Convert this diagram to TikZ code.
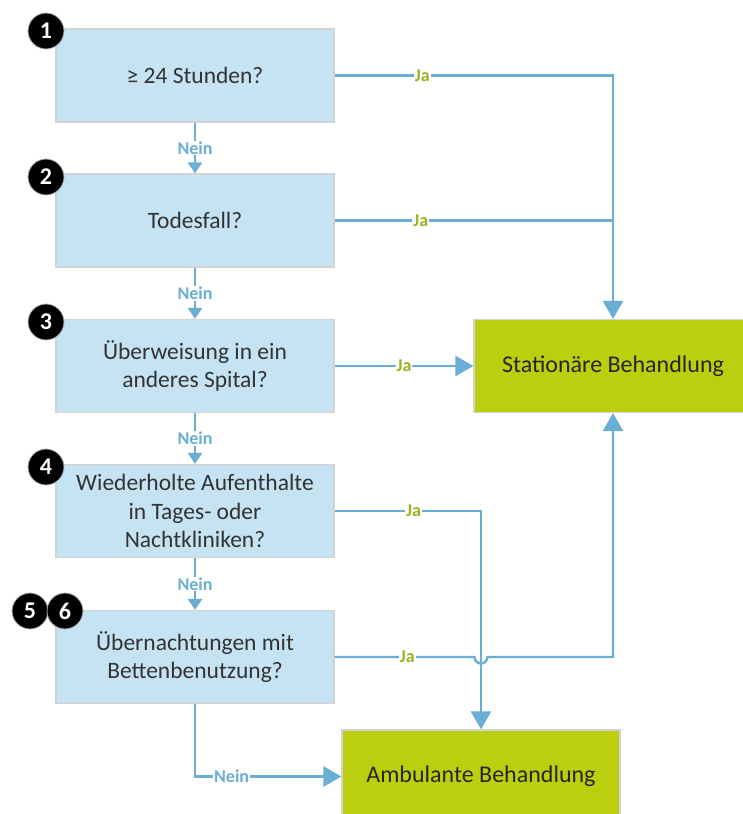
\documentclass[tikz,border=0pt]{standalone}
\usepackage{fontspec}
\setmainfont{Carlito}
\usetikzlibrary{arrows.meta,calc}
\definecolor{boxfill}{HTML}{C5E3F3}
\definecolor{boxline}{HTML}{D2D2D2}
\definecolor{linec}{HTML}{6AAED6}
\definecolor{greenfill}{HTML}{BCCF0F}
\definecolor{jagreen}{HTML}{9EB01E}
\tikzset{
  qbox/.style={draw=boxline, line width=1.2pt, fill=boxfill, minimum width=278pt, minimum height=93pt, inner sep=0pt, align=center, font=\fontsize{23.5}{28.5}\selectfont, text=black!80},
  gbox/.style={draw=boxline, line width=1.2pt, fill=greenfill, minimum width=278pt, minimum height=93pt, inner sep=0pt, align=center, font=\fontsize{24}{28.5}\selectfont, text=black!85},
  conn/.style={draw=linec, line width=2.4pt},
  arr/.style={conn, -{Triangle[width=20pt,length=18pt]}},
  sarr/.style={conn, -{Triangle[width=14pt,length=11pt]}},
  ja/.style={fill=white, text=jagreen, font=\bfseries\fontsize{18}{20}\selectfont, inner sep=1pt},
  nein/.style={fill=white, text=linec, font=\bfseries\fontsize{18}{20}\selectfont, inner sep=1pt},
  badge/.style={circle, fill=black, draw=black!30, line width=0.8pt, minimum size=36pt, inner sep=0pt, text=white, font=\bfseries\fontsize{24}{24}\selectfont}
}
\begin{document}
\begin{tikzpicture}[x=1pt,y=-1pt]
\useasboundingbox (0,0) rectangle (743,814);
\clip (0,0) rectangle (743,814);
\fill[white] (0,0) rectangle (743,814);
% boxes
\node[qbox] (b1) at (195,75.5) {≥ 24 Stunden?};
\node[qbox] (b2) at (195,220.5) {Todesfall?};
\node[qbox] (b3) at (195,366) {Überweisung in ein\\anderes Spital?};
\node[qbox] (b4) at (195,511) {Wiederholte Aufenthalte\\in Tages- oder\\Nachtkliniken?};
\node[qbox] (b5) at (195,657) {Übernachtungen mit\\Bettenbenutzung?};
\node[gbox] (st) at (613,366) {Stationäre Behandlung};
\node[gbox] (am) at (481,776.5) {Ambulante Behandlung};
% coordinates
\coordinate (c1) at (st.north |- b1.east);
\coordinate (c2) at (st.north |- b2.east);
\coordinate (c4) at (am.north |- b4.east);
\coordinate (c5) at (st.south |- b5.east);
\coordinate (j1) at ($(am.north |- b5.east)+(-6.5,0)$);
\coordinate (c6) at (b5.south |- am.west);
% Ja connectors
\draw[arr] (b1.east) -- node[ja, pos=0.315]{Ja} (c1) -- (st.north);
\draw[conn] (b2.east) -- node[ja, pos=0.31]{Ja} (c2);
\draw[arr] (b3.east) -- node[ja, pos=0.5]{Ja} (st.west);
\draw[arr] (b4.east) -- node[ja, pos=0.54]{Ja} (c4) -- (am.north);
\draw[arr] (b5.east) -- node[ja, pos=0.52]{Ja} (j1) arc[start angle=180, end angle=0, radius=6.5] -- (c5) -- (st.south);
% Nein connectors
\draw[sarr] (b1.south) -- node[nein]{Nein} (b2.north);
\draw[sarr] (b2.south) -- node[nein]{Nein} (b3.north);
\draw[sarr] (b3.south) -- node[nein]{Nein} (b4.north);
\draw[sarr] (b4.south) -- node[nein]{Nein} (b5.north);
\draw[arr] (b5.south) -- (c6) -- node[nein, pos=0.25]{Nein} (am.west);
% badges
\node[badge] (n1) at (46,31) {1};
\node[badge] (n2) at (46,177) {2};
\node[badge] (n3) at (46,322) {3};
\node[badge] (n4) at (46,467) {4};
\node[badge] (n5) at (30,611) {5};
\node[badge] (n6) at (65,611) {6};
\end{tikzpicture}
\end{document}
